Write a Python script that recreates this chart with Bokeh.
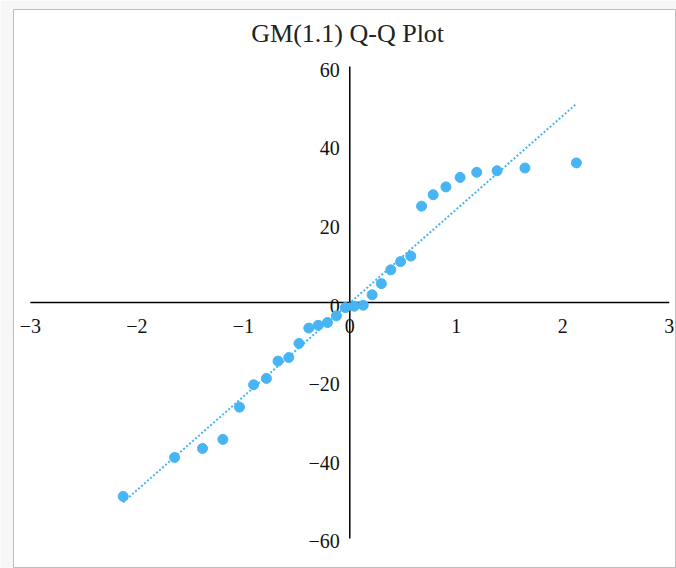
import numpy as np
from bokeh.plotting import figure
from bokeh.models import Range1d, Label, ColumnDataSource
from bokeh.core.properties import value
from bokeh.embed import file_html
from bokeh.resources import INLINE

# ---- data ----
theoretical_quantiles = [-2.128, -1.645, -1.383, -1.192, -1.036, -0.903, -0.783, -0.674,
                         -0.573, -0.477, -0.385, -0.297, -0.210, -0.126, -0.042,
                         0.042, 0.126, 0.210, 0.297, 0.385, 0.477, 0.573, 0.674,
                         0.783, 0.903, 1.036, 1.192, 1.383, 1.645, 2.128]
sample_residuals = [-49.3, -39.4, -37.1, -34.8, -26.6, -20.9, -19.3, -14.9, -14.0, -10.4,
                    -6.5, -5.8, -5.1, -3.4, -1.3, -0.95, -0.7, 1.96, 4.8, 8.3,
                    10.4, 11.8, 24.5, 27.4, 29.4, 31.8, 33.1, 33.5, 34.2, 35.5]
x_ticks = [-3, -2, -1, 0, 1, 2, 3]
y_ticks = [-60, -40, -20, 0, 20, 40, 60]
title_text = "GM(1.1) Q-Q Plot"

BLUE = "#47B5F3"
FONT = "Liberation Serif"

def fmt(v):
    return ("\u2212" + str(abs(v))) if v < 0 else str(v)

p = figure(width=676, height=568, output_backend="svg", toolbar_location=None,
           x_range=Range1d(-3.158, 3.068), y_range=Range1d(-67.63, 74.50),
           min_border_left=13, min_border_top=9, min_border_right=0, min_border_bottom=0)
p.xaxis.visible = False
p.yaxis.visible = False
p.xgrid.visible = False
p.ygrid.visible = False
p.border_fill_color = "#f7f7f7"
p.background_fill_color = "white"
p.outline_line_color = "#bdbdbd"
p.outline_line_width = 1

# axes crossing at origin
p.segment(x0=[min(x_ticks), 0], y0=[0, min(y_ticks)], x1=[max(x_ticks), 0], y1=[0, max(y_ticks)],
          line_color="black", line_width=1.5)

# tick labels
p.text(x=x_ticks, y=[0] * len(x_ticks), text=[fmt(v) for v in x_ticks],
       text_font=value(FONT), text_font_size="20px", text_color="#111111",
       text_align="center", text_baseline="middle", y_offset=23)
p.text(x=[0] * len(y_ticks), y=y_ticks, text=[fmt(v) for v in y_ticks],
       text_font=value(FONT), text_font_size="20px", text_color="#111111",
       text_align="right", text_baseline="middle", x_offset=-10, y_offset=3)

# linear trendline (least squares fit of the points)
slope, intercept = np.polyfit(theoretical_quantiles, sample_residuals, 1)
tx = [min(theoretical_quantiles), max(theoretical_quantiles)]
ty = [slope * v + intercept for v in tx]
p.line(tx, ty, line_color=BLUE, line_width=2, line_dash="2 2")

# points
src = ColumnDataSource(dict(x=theoretical_quantiles, y=sample_residuals))
p.scatter("x", "y", source=src, size=10, fill_color=BLUE, line_color=BLUE)

p.add_layout(Label(x=-0.02, y=68.4, text=title_text, text_align="center", text_baseline="middle",
                   text_font=FONT, text_font_size="26px", text_color="#222222"))

open("out.html", "w").write(file_html(p, INLINE))
